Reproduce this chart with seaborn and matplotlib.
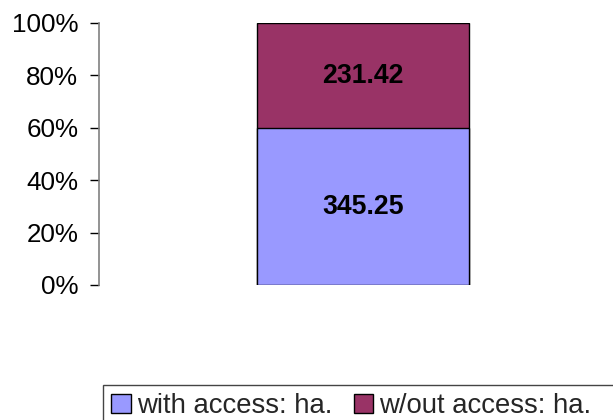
import matplotlib
matplotlib.use("Agg")
import matplotlib.pyplot as plt
import seaborn as sns
import pandas as pd
from matplotlib.patches import Patch, Rectangle
from matplotlib.ticker import PercentFormatter

categories = [""]
with_access = [345.25]
without_access = [231.42]
series_names = ["with access: ha.", "w/out access: ha."]
colors = ["#9999FF", "#993366"]

sns.set_theme(style="white")
plt.rcParams["font.family"] = ["Liberation Sans", "DejaVu Sans"]

totals = [a + b for a, b in zip(with_access, without_access)]
df = pd.DataFrame({
    "cat": categories,
    "with_pct": [a / t * 100 for a, t in zip(with_access, totals)],
    "total_pct": [100.0 for _ in totals],
})

fig = plt.figure(figsize=(6.13, 4.2), dpi=100)
ax = fig.add_axes([99 / 613, 1 - 285 / 420, 528 / 613, 262 / 420])

sns.barplot(data=df, x="cat", y="total_pct", color=colors[1], ax=ax,
            width=0.4, edgecolor="black", linewidth=1, saturation=1)
sns.barplot(data=df, x="cat", y="with_pct", color=colors[0], ax=ax,
            width=0.4, edgecolor="black", linewidth=1, saturation=1)

ax.set_xlim(-0.5, 0.5)
ax.set_ylim(0, 100)
ax.set_yticks([0, 20, 40, 60, 80, 100])
ax.yaxis.set_major_formatter(PercentFormatter(decimals=0))
ax.set_xticks([])
ax.set_xlabel("")
ax.set_ylabel("")
for s in ["top", "right", "bottom"]:
    ax.spines[s].set_visible(False)
ax.spines["left"].set_color("#808080")
ax.spines["left"].set_linewidth(1.2)
ax.tick_params(axis="y", left=True, length=6.5, width=1, color="black",
               labelsize=18.7, pad=8.5, labelcolor="black")

for i, (a, b, t) in enumerate(zip(with_access, without_access, totals)):
    pa = a / t * 100
    ax.text(i, pa / 2, f"{a:.2f}", ha="center", va="center",
            fontsize=19.2, fontweight="bold", color="black")
    ax.text(i, pa + (100 - pa) / 2, f"{b:.2f}", ha="center", va="center",
            fontsize=19.2, fontweight="bold", color="black")

handles = [Patch(facecolor=c, edgecolor="black", linewidth=1) for c in colors]
leg = fig.legend(handles, series_names, loc="upper left",
                 bbox_to_anchor=(103 / 613, 1 - 385 / 420), ncol=2,
                 fontsize=19.8, frameon=False,
                 handlelength=0.7, handleheight=0.65, handletextpad=0.22,
                 columnspacing=0.8, borderpad=0.3, borderaxespad=0)
# legend frame running off the right and bottom edges, as in the reference
fig.patches.append(Rectangle((103 / 613, -0.1), 0.9, 1 - 385 / 420 + 0.1,
                             transform=fig.transFigure, fill=False,
                             edgecolor="#444444", linewidth=1, zorder=5))

fig.savefig("out.png", dpi=100)
